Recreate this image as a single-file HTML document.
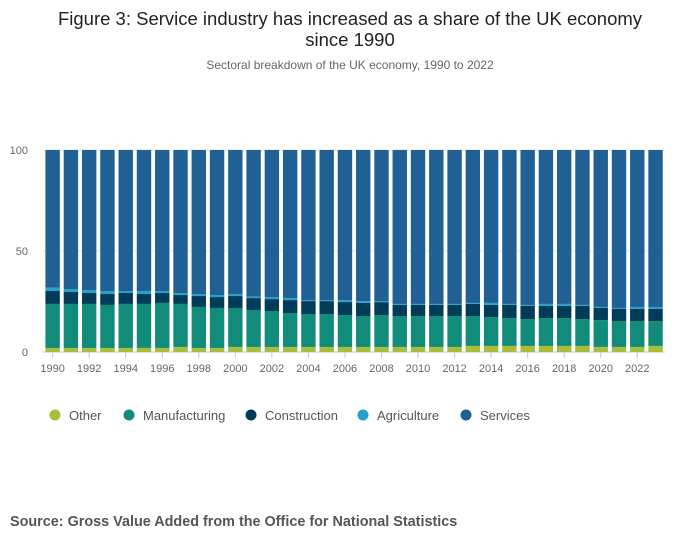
<!DOCTYPE html>
<html><head><meta charset="utf-8">
<style>
body{margin:0;background:#fff;font-family:"Liberation Sans",sans-serif;}
#wrap{position:relative;width:700px;height:549px;overflow:hidden;}
</style></head>
<body>
<div id="wrap">
<svg id="chart" width="700" height="549" xmlns="http://www.w3.org/2000/svg">
<text x="350" y="25" text-anchor="middle" font-size="18.5" fill="#222">Figure 3: Service industry has increased as a share of the UK economy</text>
<text x="350" y="46" text-anchor="middle" font-size="18.5" fill="#222">since 1990</text>
<text x="350" y="69" text-anchor="middle" font-size="12" fill="#666">Sectoral breakdown of the UK economy, 1990 to 2022</text>
<g id="grid"></g><g id="bars"></g><g id="axes"></g>
<g id="legend"></g>
<text x="10" y="526" font-size="14.4" font-weight="bold" fill="#555">Source: Gross Value Added from the Office for National Statistics</text>
</svg>
</div>
<script>
const years=[1990,1991,1992,1993,1994,1995,1996,1997,1998,1999,2000,2001,2002,2003,2004,2005,2006,2007,2008,2009,2010,2011,2012,2013,2014,2015,2016,2017,2018,2019,2020,2021,2022,2023];
const other=[2,2,2,2,2,2,2,2.5,2,2,2.5,2.5,2.5,2.5,2.5,2.5,2.5,2.5,2.5,2.5,2.5,2.5,2.5,3,3,3,3,3,3,3,2.5,2.5,2.5,3];
const manufacturing=[21.8,21.8,21.8,21.3,21.8,21.8,22.3,21.3,20.3,19.8,19.3,18.3,17.8,16.8,16.3,16.3,15.8,15.3,15.8,15.3,15.3,15.3,15.3,14.8,14.3,13.8,13.3,13.8,13.8,13.3,13.3,12.8,12.8,12.3];
const construction=[6.4,5.9,5.4,5.4,5.4,4.9,4.9,4.4,5.4,5.4,5.9,5.9,5.9,6.4,6.4,6.4,6.4,6.5,6.4,5.5,5.5,5.5,5.5,6.0,6.0,6.5,6.5,6.0,6.0,6.5,6.0,6.0,6.0,6.0];
const agriculture=[1.6,1.5,1.5,1.5,1.0,1.5,1.0,1.0,1.0,1.0,1.0,0.7,1.0,1.0,0.5,0.5,1.0,0.9,0.5,0.5,0.5,0.5,0.5,0.5,1.0,0.5,0.5,1.0,1.0,0.5,0.5,0.5,1.0,1.0];
const yTicks=[0,50,100];
const seriesNames=["Other","Manufacturing","Construction","Agriculture","Services"];
const colors=["#a8bd3a","#118c7b","#003c57","#27a0cc","#206095"];
const NS="http://www.w3.org/2000/svg";
const X0=43.5,PITCH=18.27,BW=14.4,Y0=352,Y1=150;
const y=v=>Y0-(Y0-Y1)*v/100;
const x=i=>X0+PITCH*i+(PITCH-BW)/2;
function mk(t,a,p){const e=document.createElementNS(NS,t);for(const k in a)e.setAttribute(k,a[k]);p.appendChild(e);return e;}
const grid=document.getElementById('grid'),bars=document.getElementById('bars'),axes=document.getElementById('axes'),leg=document.getElementById('legend');
yTicks.forEach(t=>{
 const l=mk('line',{x1:43,x2:665,y1:y(t),y2:y(t),stroke:t===0?'#b9c8dc':'#e6e6e6','stroke-width':1},grid);
 
 
 const tx=mk('text',{x:28,y:y(t)+4,'text-anchor':'end','font-size':11,fill:'#666'},axes);
 tx.textContent=t;
 
 
});
years.forEach((yr,i)=>{
 const services=100-other[i]-manufacturing[i]-construction[i]-agriculture[i];
 const vals=[other[i],manufacturing[i],construction[i],agriculture[i],services];
 let cum=0;
 vals.forEach((v,s)=>{
  const r=mk('rect',{x:x(i),width:BW,y:y(cum+v),height:y(cum)-y(cum+v),fill:colors[s]},bars);
  
  
  cum+=v;
 });
 if(i%2===0){
  const cx=x(i)+BW/2;
  const tk=mk('line',{x1:cx,x2:cx,y1:Y0,y2:Y0+6,stroke:'#b9c8dc'},axes);
  
  
  const tl=mk('text',{x:cx,y:Y0+20,'text-anchor':'middle','font-size':11,fill:'#666'},axes);
  tl.textContent=yr;
  
  
 }
});
const legX=[55,129,251,363,466];
seriesNames.forEach((n,s)=>{
 const g=mk('g',{},leg);
 
 
 mk('circle',{cx:legX[s],cy:415,r:5.5,fill:colors[s]},g);
 const t=mk('text',{x:legX[s]+14,y:420,'font-size':13,fill:'#555'},g);
 t.textContent=n;
});
</script>
</body></html>
